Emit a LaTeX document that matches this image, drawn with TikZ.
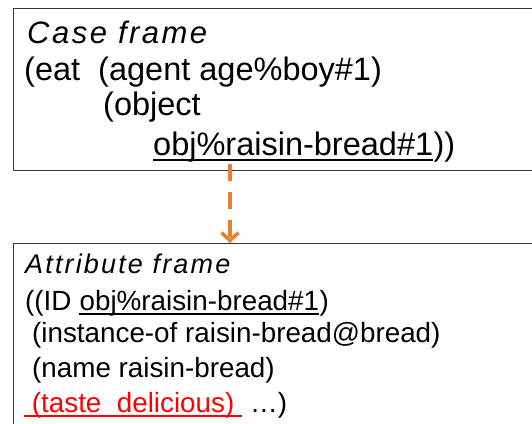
\documentclass[tikz,border=0pt]{standalone}
\usepackage{fontspec}
\setmainfont{Liberation Sans}
\newfontfamily\titlefont[LetterSpace=8]{Liberation Sans}
\usetikzlibrary{arrows.meta,positioning}
\definecolor{linkorange}{RGB}{237,125,49}
\definecolor{tastered}{RGB}{255,0,0}
\tikzset{
      framebox/.style={
        draw=black!78,
        line width=1.3pt,
        minimum width=540pt,
        anchor=north west,
        inner sep=0pt
      },
      caseline/.style={anchor=base west, inner sep=0pt, font=\fontsize{32.5}{37}\selectfont},
      attrline/.style={anchor=base west, inner sep=0pt, font=\fontsize{27.8}{34}\selectfont},
      casetitle/.style={anchor=base west, inner sep=0pt, font=\fontsize{31}{37}\titlefont\itshape},
      attrtitle/.style={anchor=base west, inner sep=0pt, font=\fontsize{27}{34}\titlefont\itshape},
      uline/.style={line width=1.2pt}
    }

\begin{document}
\begin{tikzpicture}[x=1pt,y=-1pt]
    \useasboundingbox (0,0) rectangle (532,423);
    \clip (0,0) rectangle (532,423);
    % the two frames
    \node[framebox, minimum height=162pt] (casebox) at (13,8) {};
    \node[framebox, minimum height=200pt] (attrbox) at (13,243) {};
    % case frame
    \node[casetitle] (casehead) at (27,43) {Case frame};
    \node[caseline] (eatline) at (24,80) {(eat\ \ (agent age\%boy\#1)};
    \node[caseline] (objline) at (103,115) {(object};
    \node[caseline] (objid) at (153,155) {obj\%raisin-bread\#1};
    \node[caseline] (objclose) at (objid.base east) {))};
    \draw[uline] ([yshift=-5pt]objid.base west) -- ([yshift=-5pt]objid.base east);
    % attribute frame
    \node[attrtitle] (attrhead) at (25,273) {Attribute frame};
    \node[attrline] (idopen) at (25,310) {((ID\ \null};
    \node[attrline] (idref) at (idopen.base east) {obj\%raisin-bread\#1};
    \node[attrline] (idclose) at (idref.base east) {)};
    \draw[uline] ([yshift=-4pt]idref.base west) -- ([yshift=-4pt]idref.base east);
    \node[attrline] (instline) at (32,342) {(instance-of raisin-bread@bread)};
    \node[attrline] (nameline) at (32,377) {(name raisin-bread)};
    \node[attrline, text=tastered] (tasteline) at (24,412) {\ (taste\ \ delicious)\ \null};
    \node[attrline] (restline) at (tasteline.base east) {\ …)};
    \draw[uline, tastered] ([yshift=-4pt]tasteline.base west) -- ([yshift=-4pt]tasteline.base east);
    % link between the frames
    \coordinate (linkx) at (230,164);
    \draw[-{Straight Barb[length=8pt,width=17pt]}, line width=3.5pt, color=linkorange, dash pattern=on 17pt off 11pt]
      (linkx) -- (attrbox.north -| linkx);
    \end{tikzpicture}
\end{document}
